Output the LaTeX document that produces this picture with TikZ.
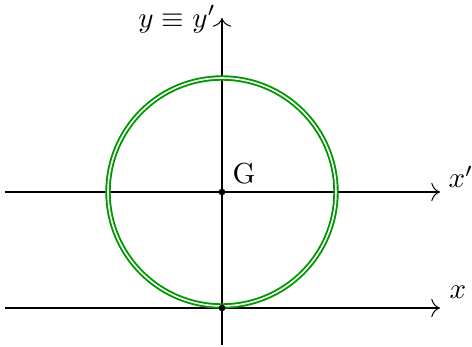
\documentclass[tikz,border=0pt]{standalone}
\usetikzlibrary{arrows.meta}
\definecolor{circgreen}{RGB}{0,150,0}
\begin{document}
\begin{tikzpicture}[x=0.3448pt,y=0.3448pt,
  axis/.style={line width=0.35pt,-{To[length=3pt]}},
  ring/.style={draw=circgreen,line width=0.65pt,double=white,double distance=0.55pt},
  pt/.style={circle,fill=black,inner sep=0pt,minimum size=2.3pt}]
\useasboundingbox (-222,-155) rectangle (250,192);
\coordinate (vs) at (0,-153);
\coordinate (ve) at (0,174);
\coordinate (h1s) at (-217,0);
\coordinate (h1e) at (218,0);
\coordinate (h2s) at (-217,-116);
\coordinate (h2e) at (218,-116);
\draw[axis] (h1s) -- (h1e);
\draw[axis] (h2s) -- (h2e);
\draw[axis] (vs) -- (ve);
\node[pt] (G) at (0,0) {};
\draw[ring] (G) circle[radius=114];
\node[pt] (B) at (0,-116) {};
\node (Gl) at (22,18) {G};
\node (xp) at (239,15) {$x'$};
\node (x) at (236,16-116) {$x$};
\node[anchor=east] (yl) at (4,173) {$y\equiv y'$};
\end{tikzpicture}
\end{document}
